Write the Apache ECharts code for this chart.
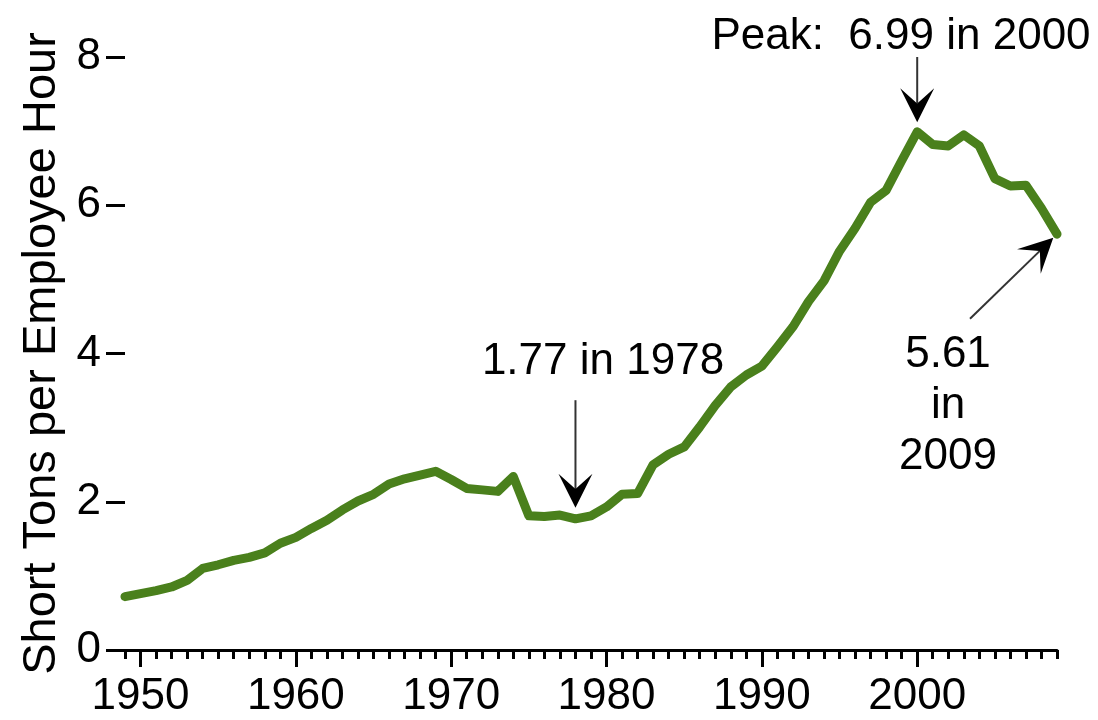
<!DOCTYPE html>
<html>
<head>
<meta charset="utf-8">
<script src="https://cdn.jsdelivr.net/npm/echarts@6/dist/echarts.min.js"></script>
<style>
  html, body { margin: 0; padding: 0; background: #fff; }
  #chart { width: 1098px; height: 720px; }
</style>
</head>
<body>
<div id="chart"></div>
<script>
// ---- data ----
var years = [1949,1950,1951,1952,1953,1954,1955,1956,1957,1958,1959,
             1960,1961,1962,1963,1964,1965,1966,1967,1968,1969,
             1970,1971,1972,1973,1974,1975,1976,1977,1978,1979,
             1980,1981,1982,1983,1984,1985,1986,1987,1988,1989,
             1990,1991,1992,1993,1994,1995,1996,1997,1998,1999,
             2000,2001,2002,2003,2004,2005,2006,2007,2008,2009];
var tonsPerHour = [0.72,0.76,0.80,0.85,0.94,1.10,1.15,1.21,1.25,1.31,1.44,
                   1.52,1.64,1.75,1.89,2.01,2.10,2.24,2.31,2.36,2.41,
                   2.30,2.18,2.16,2.14,2.34,1.81,1.80,1.82,1.77,1.81,
                   1.93,2.10,2.11,2.50,2.64,2.74,3.01,3.30,3.55,3.71,
                   3.83,4.09,4.36,4.70,4.98,5.38,5.69,6.04,6.20,6.60,
                   6.99,6.82,6.80,6.95,6.80,6.36,6.26,6.27,5.96,5.61];
var xLabelYears = [1950,1960,1970,1980,1990,2000];
var yTicks = [0,2,4,6,8];
var yAxisTitle = 'Short Tons per Employee Hour';
var annPeakText = 'Peak:  6.99 in 2000';
var annLowText = '1.77 in 1978';
var annLastText = ['5.61','in','2009'];
// arrows in data coordinates: [fromYear, fromValue, toYear, toValue]
var arrowPeak = [2000, 8.0, 2000, 7.12];
var arrowLow  = [1978, 3.37, 1978, 1.92];
var arrowLast = [2003.4, 4.47, 2008.76, 5.56];

// ---- chart ----
var FONT = '"Liberation Sans", Arial, Helvetica, sans-serif';
var chart = echarts.init(document.getElementById('chart'), null, {renderer: 'canvas'});
var seriesData = years.map(function (y, i) { return [y, tonsPerHour[i]]; });

chart.setOption({
  animation: false,
  backgroundColor: '#ffffff',
  grid: { left: 125, right: 41, top: 57, bottom: 70, containLabel: false },
  xAxis: [{
    type: 'value', min: 1949, max: 2009, interval: 1,
    axisLine: { show: true, lineStyle: { color: '#000', width: 3 } },
    axisTick: { show: true, length: 9, lineStyle: { color: '#000', width: 3 } },
    axisLabel: {
      show: true, margin: 25, fontSize: 44, color: '#000', fontFamily: FONT,
      formatter: function (v) { return xLabelYears.indexOf(v) >= 0 ? String(v) : ''; }
    },
    splitLine: { show: false }
  }, {
    type: 'value', min: 1949, max: 2009, position: 'bottom',
    axisLine: { show: false },
    axisTick: { show: true, length: 17, customValues: xLabelYears, lineStyle: { color: '#000', width: 3 } },
    axisLabel: { show: false },
    splitLine: { show: false }
  }],
  yAxis: {
    type: 'value', min: yTicks[0], max: yTicks[yTicks.length - 1], interval: 2,
    axisLine: { show: false },
    axisTick: { show: true, length: 19, lineStyle: { color: '#000', width: 3 } },
    axisLabel: { show: true, margin: 24, fontSize: 44, color: '#000', fontFamily: FONT },
    splitLine: { show: false },
    name: yAxisTitle, nameLocation: 'middle', nameGap: 53, nameRotate: 90,
    nameTextStyle: { fontSize: 47, color: '#000', fontFamily: FONT }
  },
  series: [{
    type: 'line', xAxisIndex: 0, yAxisIndex: 0,
    data: seriesData,
    showSymbol: false, symbol: 'none',
    lineStyle: { color: '#4a801c', width: 9, cap: 'round', join: 'round' },
    z: 3
  }]
});

function px(x, y) { return chart.convertToPixel({xAxisIndex: 0, yAxisIndex: 0}, [x, y]); }

function arrowGraphics(a) {
  var p0 = px(a[0], a[1]), p1 = px(a[2], a[3]);
  var dx = p1[0] - p0[0], dy = p1[1] - p0[1];
  var len = Math.sqrt(dx * dx + dy * dy);
  var ux = dx / len, uy = dy / len, nx = -uy, ny = ux;
  var L = 34, W = 34;
  var notch = [p1[0] - ux * L * 0.55, p1[1] - uy * L * 0.55];
  var b1 = [p1[0] - ux * L + nx * W / 2, p1[1] - uy * L + ny * W / 2];
  var b2 = [p1[0] - ux * L - nx * W / 2, p1[1] - uy * L - ny * W / 2];
  return [{
    type: 'line', z: 10,
    shape: { x1: p0[0], y1: p0[1], x2: notch[0], y2: notch[1] },
    style: { stroke: '#333', lineWidth: 2 }
  }, {
    type: 'polygon', z: 11,
    shape: { points: [p1, b1, notch, b2] },
    style: { fill: '#000' }
  }];
}

var g = [];
g = g.concat(arrowGraphics(arrowPeak), arrowGraphics(arrowLow), arrowGraphics(arrowLast));

function txt(s, x, y) {
  return { type: 'text', z: 12, x: x, y: y,
    style: { text: s, fill: '#000', font: '44px ' + FONT, align: 'center', verticalAlign: 'middle' } };
}
g.push(txt(annPeakText, 901, 37));
g.push(txt(annLowText, 603, 362));
g.push(txt(annLastText[0], 948, 355));
g.push(txt(annLastText[1], 948, 406));
g.push(txt(annLastText[2], 948, 457));

chart.setOption({ graphic: g });
</script>
</body>
</html>
